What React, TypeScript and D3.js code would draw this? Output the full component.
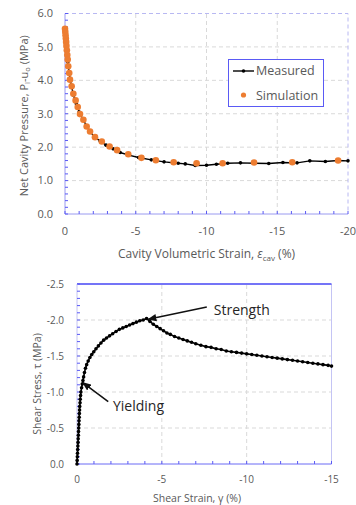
import React from 'react';
import * as d3 from 'd3';

// top chart: cavity expansion
const measured: [number, number][] = [
  [0, 5.5], [-0.05, 5.2], [-0.1, 4.9], [-0.2, 4.55], [-0.3, 4.2], [-0.45, 3.85],
  [-0.6, 3.55], [-0.8, 3.3], [-1.0, 3.05], [-1.25, 2.85], [-1.5, 2.65], [-1.8, 2.45],
  [-2.1, 2.3], [-2.5, 2.18], [-2.9, 2.06], [-3.4, 1.95], [-3.9, 1.84], [-4.5, 1.76],
  [-5.2, 1.69], [-6.1, 1.62], [-7.0, 1.56], [-8.0, 1.52], [-8.5, 1.5], [-9.2, 1.45],
  [-10.0, 1.46], [-10.7, 1.49], [-11.5, 1.52], [-12.4, 1.53], [-13.4, 1.52], [-14.4, 1.51],
  [-15.4, 1.54], [-16.4, 1.53], [-17.3, 1.59], [-18.4, 1.57], [-19.3, 1.6], [-20, 1.59],
];

const simulation: [number, number][] = [
  [0, 5.54], [-0.02, 5.45], [-0.04, 5.35], [-0.06, 5.25], [-0.08, 5.15], [-0.1, 5.03],
  [-0.13, 4.9], [-0.16, 4.76], [-0.19, 4.62], [-0.23, 4.42], [-0.3, 4.22], [-0.35, 4.02],
  [-0.47, 3.82], [-0.59, 3.6], [-0.75, 3.4], [-0.9, 3.2], [-1.06, 2.99], [-1.3, 2.82],
  [-1.53, 2.62], [-1.77, 2.47], [-2.12, 2.3], [-2.6, 2.17], [-3.15, 2.02], [-3.68, 1.91],
  [-4.47, 1.79], [-5.4, 1.68], [-6.42, 1.61], [-7.68, 1.55], [-9.3, 1.52], [-11.14, 1.52],
  [-13.36, 1.54], [-16.06, 1.55], [-19.3, 1.6],
];

const topXTicks = [0, -5, -10, -15, -20];
const topYTicks = [0, 1, 2, 3, 4, 5, 6];
const legendLabels = ['Measured', 'Simulation'];

// bottom chart: shear stress-strain
const shear: [number, number][] = [
  [0, 0], [-0.01, -0.05], [-0.02, -0.1], [-0.03, -0.15], [-0.04, -0.2], [-0.05, -0.25],
  [-0.06, -0.3], [-0.07, -0.35], [-0.08, -0.4], [-0.09, -0.45], [-0.1, -0.5], [-0.11, -0.55],
  [-0.12, -0.6], [-0.13, -0.65], [-0.14, -0.7], [-0.15, -0.75], [-0.16, -0.8], [-0.18, -0.85],
  [-0.19, -0.9], [-0.21, -0.95], [-0.23, -1.0], [-0.27, -1.06], [-0.31, -1.11], [-0.35, -1.16],
  [-0.39, -1.21], [-0.44, -1.27], [-0.5, -1.33], [-0.57, -1.38], [-0.66, -1.43], [-0.76, -1.48],
  [-0.87, -1.52], [-0.99, -1.56], [-1.12, -1.6], [-1.26, -1.64], [-1.41, -1.68], [-1.57, -1.72],
  [-1.74, -1.75], [-1.92, -1.78], [-2.1, -1.81], [-2.3, -1.84], [-2.5, -1.87], [-2.7, -1.89],
  [-2.9, -1.91], [-3.1, -1.93], [-3.3, -1.95], [-3.5, -1.97], [-3.7, -1.99], [-3.9, -2.0],
  [-4.1, -2.02], [-4.3, -1.98], [-4.5, -1.94], [-4.7, -1.91], [-4.9, -1.88], [-5.1, -1.85],
  [-5.3, -1.82], [-5.5, -1.8], [-5.75, -1.77], [-6.0, -1.75], [-6.25, -1.73], [-6.5, -1.71],
  [-6.75, -1.69], [-7.0, -1.67], [-7.3, -1.65], [-7.6, -1.63], [-7.9, -1.62], [-8.2, -1.6],
  [-8.5, -1.59], [-8.8, -1.57], [-9.1, -1.56], [-9.4, -1.55], [-9.7, -1.54], [-10.0, -1.53],
  [-10.3, -1.52], [-10.6, -1.51], [-10.9, -1.5], [-11.2, -1.49], [-11.5, -1.48], [-11.8, -1.47],
  [-12.1, -1.46], [-12.4, -1.45], [-12.7, -1.44], [-13.0, -1.43], [-13.3, -1.42], [-13.6, -1.41],
  [-13.9, -1.4], [-14.2, -1.39], [-14.5, -1.38], [-14.8, -1.37], [-15.0, -1.36],
];

const bottomXTicks = [0, -5, -10, -15];
const bottomYTicks = [0, -0.5, -1.0, -1.5, -2.0, -2.5];

// annotation anchors, in data units
const strengthNote = { label: 'Strength', tip: [-4.2, -2.01], tail: [-7.65, -2.18], text: [-8.06, -2.14] };
const yieldNote = { label: 'Yielding', tip: [-0.34, -1.13], tail: [-1.84, -0.865], text: [-2.12, -0.81] };

const FONT = 'Open Sans, sans-serif';
const GREY = '#595959';
const AXIS = '#9a9af0';
const TICK = '#5a5af5';
const GRID = '#d9d9d9';
const ORANGE = '#ED7D31';

export default function App() {
  const xT = d3.scaleLinear().domain([0, -20]).range([65, 348]);
  const yT = d3.scaleLinear().domain([0, 6]).range([214, 13.5]);
  const xB = d3.scaleLinear().domain([0, -15]).range([77, 331.5]);
  const yB = d3.scaleLinear().domain([0, -2.5]).range([464, 284]);

  const lineT = d3.line<[number, number]>().x((d) => xT(d[0])).y((d) => yT(d[1]));
  const lineB = d3.line<[number, number]>().x((d) => xB(d[0])).y((d) => yB(d[1]));

  const topMinorY = d3.range(0, 6.01, 0.2);
  const topMinorX = d3.range(0, -20.01, -1);
  const botMinorY = d3.range(0, -2.501, -0.1);
  const botMinorX = d3.range(0, -15.01, -1);

  const [x0T, x1T] = xT.range();
  const [y0T, y1T] = yT.range();
  const [x0B, x1B] = xB.range();
  const [y0B, y1B] = yB.range();

  return (
    <div style={{ position: 'absolute', left: 0, top: 0 }}>
      <svg width={356} height={505} style={{ display: 'block', background: '#fff' }} fontFamily={FONT}>
        <defs>
          <marker id="arrow" viewBox="0 0 10 10" refX="9" refY="5" markerWidth="6" markerHeight="6" orient="auto-start-reverse">
            <path d="M0,1 L10,5 L0,9 z" fill="#111" />
          </marker>
        </defs>

        {/* ---------- top chart ---------- */}
        <g>
          {topXTicks.slice(1, -1).map((t) => (
            <line key={t} x1={xT(t)} x2={xT(t)} y1={y0T} y2={y1T} stroke={GRID} strokeDasharray="4,3" />
          ))}
          {topYTicks.slice(1, -1).map((t) => (
            <line key={t} x1={x0T} x2={x1T} y1={yT(t)} y2={yT(t)} stroke={GRID} strokeDasharray="4,3" />
          ))}
          <path d={`M${x0T},${y1T}H${x1T}V${y0T}`} fill="none" stroke="#b8b8f2" strokeDasharray="4,3" />
          <line x1={x0T} x2={x0T} y1={y0T} y2={y1T} stroke={AXIS} />
          <line x1={x0T} x2={x1T} y1={y0T} y2={y0T} stroke={AXIS} />
          {topMinorY.map((t) => (
            <line key={t} x1={x0T} x2={x0T + 3} y1={yT(t)} y2={yT(t)} stroke={TICK} />
          ))}
          {topMinorX.map((t) => (
            <line key={t} x1={xT(t)} x2={xT(t)} y1={y0T} y2={y0T - 3} stroke={TICK} />
          ))}
          {topYTicks.map((t) => (
            <text key={t} x={53} y={yT(t)} dy="0.35em" textAnchor="end" fontSize={11} fill={GREY}>
              {t.toFixed(1)}
            </text>
          ))}
          {topXTicks.map((t) => (
            <text key={t} x={xT(t)} y={231} dy="0.35em" textAnchor="middle" fontSize={11} fill={GREY}>
              {String(t)}
            </text>
          ))}
          <text x={(x0T + x1T) / 2} y={254} dy="0.35em" textAnchor="middle" fontSize={12} fill={GREY}>
            Cavity Volumetric Strain, <tspan fontStyle="italic">ε</tspan>
            <tspan fontSize={8} dy={3}>cav</tspan>
            <tspan dy={-3}> (%)</tspan>
          </text>
          <text transform={`translate(24,${(y0T + y1T) / 2 + 2}) rotate(-90)`} textAnchor="middle" dy="0.35em" fontSize={11} fill={GREY}>
            Net Cavity Pressure, P<tspan fontSize={7.5} dy={2.5}>i</tspan>
            <tspan dy={-2.5}>-u</tspan>
            <tspan fontSize={7.5} dy={2.5}>o</tspan>
            <tspan dy={-2.5}> (MPa)</tspan>
          </text>

          <path d={lineT(measured) ?? ''} fill="none" stroke="#000" strokeWidth={1.4} />
          {measured.map((d, i) => (
            <circle key={i} cx={xT(d[0])} cy={yT(d[1])} r={1.8} fill="#000" />
          ))}
          {simulation.map((d, i) => (
            <circle key={i} cx={xT(d[0])} cy={yT(d[1])} r={3.3} fill={ORANGE} />
          ))}

          {/* legend */}
          <rect x={228.5} y={59.5} width={95} height={47} fill="#fff" stroke="#5a5af5" />
          <line x1={233} x2={254} y1={71} y2={71} stroke="#000" strokeWidth={1.4} />
          <circle cx={243.5} cy={71} r={1.8} fill="#000" />
          <text x={256} y={71} dy="0.35em" fontSize={12.5} fill={GREY}>{legendLabels[0]}</text>
          <circle cx={243.5} cy={95} r={2.6} fill={ORANGE} />
          <text x={256} y={96} dy="0.35em" fontSize={12.5} fill={GREY}>{legendLabels[1]}</text>
        </g>

        {/* ---------- bottom chart ---------- */}
        <g>
          {bottomXTicks.slice(1, -1).map((t) => (
            <line key={t} x1={xB(t)} x2={xB(t)} y1={y0B} y2={y1B} stroke={GRID} strokeDasharray="4,3" />
          ))}
          {bottomYTicks.slice(1, -1).map((t) => (
            <line key={t} x1={x0B} x2={x1B} y1={yB(t)} y2={yB(t)} stroke={GRID} strokeDasharray="4,3" />
          ))}
          <line x1={x1B} x2={x1B} y1={y0B} y2={y1B} stroke="#c4c4f4" />
          <line x1={x0B} x2={x1B} y1={y1B} y2={y1B} stroke="#4646f5" strokeWidth={1.3} />
          <line x1={x0B} x2={x0B} y1={y0B} y2={y1B} stroke="#c4c4f4" />
          <line x1={x0B} x2={x1B} y1={y0B} y2={y0B} stroke="#6a6af5" />
          {botMinorY.map((t) => (
            <line key={t} x1={x0B} x2={x0B + 3} y1={yB(t)} y2={yB(t)} stroke={TICK} />
          ))}
          {botMinorX.map((t) => (
            <line key={t} x1={xB(t)} x2={xB(t)} y1={y0B} y2={y0B - 3} stroke={TICK} />
          ))}
          {bottomYTicks.map((t) => (
            <text key={t} x={64} y={yB(t)} dy="0.35em" textAnchor="end" fontSize={10} fill={GREY}>
              {t.toFixed(1)}
            </text>
          ))}
          {bottomXTicks.map((t) => (
            <text key={t} x={xB(t)} y={479} dy="0.35em" textAnchor="middle" fontSize={10} fill={GREY}>
              {String(t)}
            </text>
          ))}
          <text x={197} y={498} dy="0.35em" textAnchor="middle" fontSize={10.5} fill={GREY}>
            Shear Strain, γ (%)
          </text>
          <text transform={`translate(37,384) rotate(-90)`} textAnchor="middle" dy="0.35em" fontSize={10.5} fill={GREY}>
            Shear Stress, τ  (MPa)
          </text>

          <path d={lineB(shear) ?? ''} fill="none" stroke="#000" strokeWidth={1.6} />
          {shear.map((d, i) => (
            <circle key={i} cx={xB(d[0])} cy={yB(d[1])} r={1.8} fill="#000" />
          ))}

          {[strengthNote, yieldNote].map((n) => (
            <g key={n.label}>
              <line
                x1={xB(n.tail[0])}
                y1={yB(n.tail[1])}
                x2={xB(n.tip[0])}
                y2={yB(n.tip[1])}
                stroke="#111"
                strokeWidth={1.5}
                markerEnd="url(#arrow)"
              />
              <text x={xB(n.text[0])} y={yB(n.text[1])} dy="0.35em" fontSize={14} fill="#262626">
                {n.label}
              </text>
            </g>
          ))}
        </g>
      </svg>
    </div>
  );
}
